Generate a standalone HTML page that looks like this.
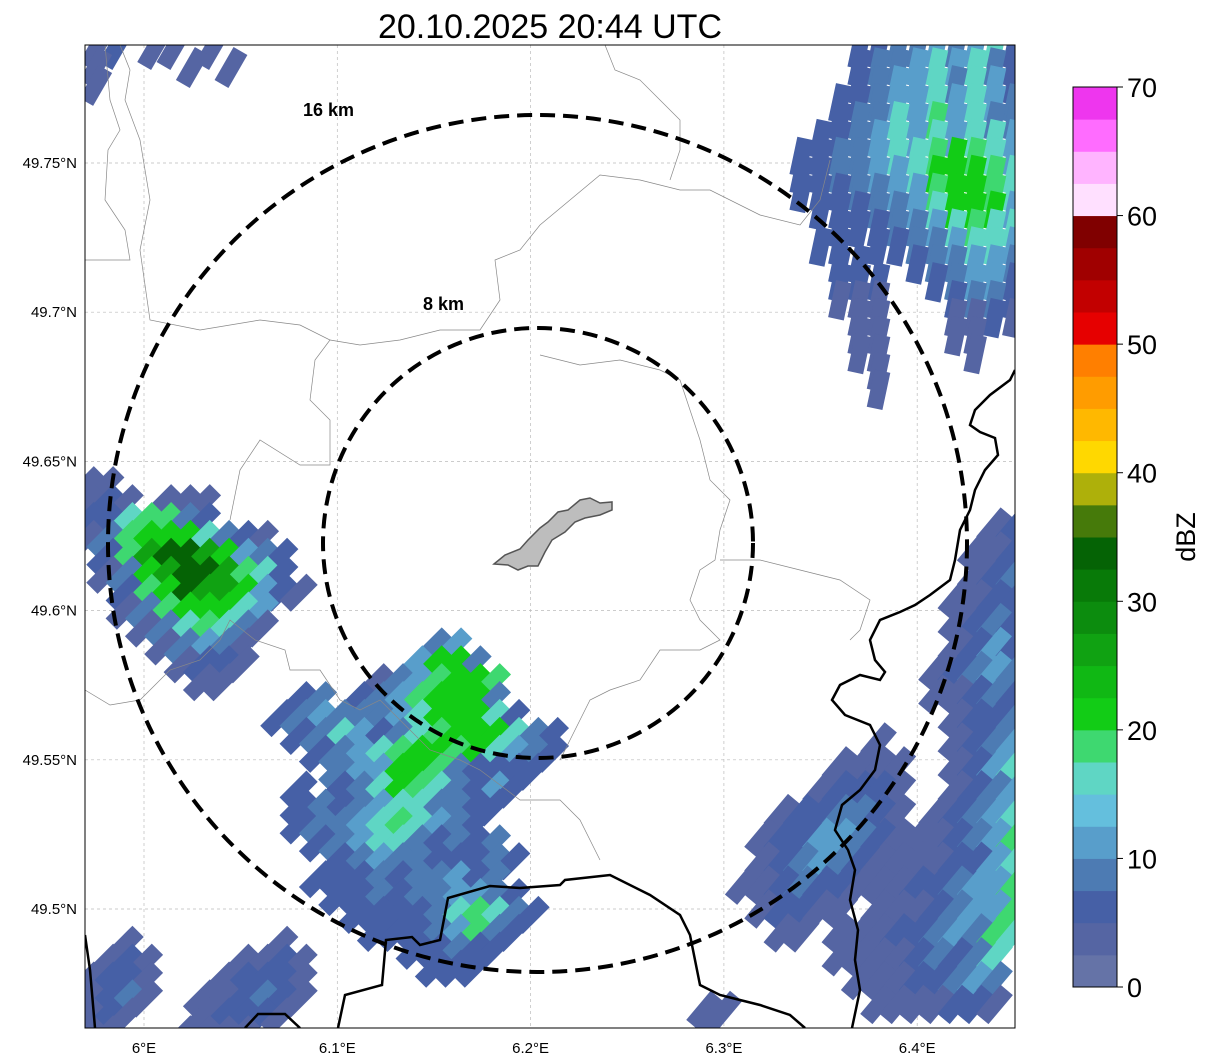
<!DOCTYPE html>
<html><head><meta charset="utf-8">
<style>
html,body{margin:0;padding:0;background:#fff;}
svg{display:block;font-family:"Liberation Sans","DejaVu Sans",sans-serif;}
</style></head>
<body>
<svg id="chart" width="1207" height="1064" viewBox="0 0 1207 1064">
<defs><clipPath id="mapclip"><rect x="85" y="45" width="930" height="983"/></clipPath></defs>
<text x="550" y="38" font-size="34" text-anchor="middle" fill="#000">20.10.2025 20:44 UTC</text>
<g id="map" clip-path="url(#mapclip)">
  <rect x="85" y="45" width="930" height="983" fill="#fff"/>
  <g id="grid"></g>
  <g id="echoes"></g>
  <g id="borders" fill="none">
    <polyline stroke="#888" stroke-width="0.7" points="105,45 110,100 120,130 108,150 105,200 125,230 130,260 85,260"/>
    <polyline stroke="#888" stroke-width="0.7" points="120,45 130,70 125,100 140,140 150,200 140,250 150,320 200,330 260,320 300,325 330,340 315,360 310,400 330,420 330,465 300,465 260,440 240,470 230,520"/>
    <polyline stroke="#888" stroke-width="0.7" points="330,340 360,345 400,340 440,330 480,330 500,300 495,260 520,250 540,225 600,175 640,180 680,190 710,190 760,215 800,225 820,200 830,160"/>
    <polyline stroke="#888" stroke-width="0.7" points="605,45 615,70 640,80 660,100 680,120 680,150 670,180"/>
    <polyline stroke="#888" stroke-width="0.7" points="540,355 580,365 620,360 660,370 680,380 690,410 700,440 710,480 730,500 720,530 715,560 700,570 690,600 700,620 720,640 700,650 660,650 640,680 610,690 590,700 580,720 560,760"/>
    <polyline stroke="#888" stroke-width="0.7" points="720,560 760,560 800,570 840,580 870,600 860,630 850,640"/>
    <polyline stroke="#888" stroke-width="0.7" points="85,690 110,705 140,700 170,670 200,660 220,640 230,620 255,640 285,650 290,670 320,670 340,700 360,710 380,700 400,720 430,750 460,760 480,770 520,800 560,800 580,820 600,860"/>
    <polyline stroke="#000" stroke-width="2.5" points="1015,370 1010,380 990,395 975,410 970,425 980,432 995,438 998,455 985,470 975,490 970,510 960,530 955,560 950,580 930,595 915,605 900,612 880,620 870,640 875,660 885,672 880,680 860,675 840,685 832,700 845,715 870,725 880,745 875,770 860,790 842,805 835,830 848,850 855,870 850,900 858,930 855,960 860,990 852,1028"/>
    <polyline stroke="#000" stroke-width="2.5" points="338,1028 345,995 382,985 386,940 412,937 420,945 440,940 448,898 490,886 520,888 560,885 565,880 610,875 650,895 680,915 690,935 695,960 700,985 720,995 740,1000 760,1005 790,1015 805,1028"/>
    <polyline stroke="#000" stroke-width="2.5" points="85,935 90,970 95,1028"/>
    <polyline stroke="#000" stroke-width="2.5" points="245,1028 258,1014 285,1014 300,1028"/>
  </g>
  <polygon fill="#bdbdbd" stroke="#555" stroke-width="1.5" points="494,564 505,555 520,549 528,540 540,528 548,522 558,512 568,510 580,500 590,498 600,503 612,502 612,510 600,515 585,518 575,522 565,532 552,540 545,552 538,566 528,566 518,570 508,565"/>
  <ellipse cx="537.5" cy="543.5" rx="429.5" ry="428.5" fill="none" stroke="#000" stroke-width="4" stroke-dasharray="15,8"/>
  <ellipse cx="538" cy="543" rx="215" ry="215" fill="none" stroke="#000" stroke-width="4" stroke-dasharray="15,8"/>
  <text x="303" y="116" font-size="18" font-weight="bold">16 km</text>
  <text x="423" y="310" font-size="18" font-weight="bold">8 km</text>
</g>
<rect x="85" y="45" width="930" height="983" fill="none" stroke="#000" stroke-width="1"/>
<g id="axes" font-size="15"></g>
<g id="cbar"></g>
<text transform="translate(1195,537) rotate(-90)" font-size="27" text-anchor="middle">dBZ</text>
<script>
// axis tick data
const lonTicks = [6.0, 6.1, 6.2, 6.3, 6.4];
const lonLabels = ["6°E", "6.1°E", "6.2°E", "6.3°E", "6.4°E"];
const latTicks = [49.75, 49.7, 49.65, 49.6, 49.55, 49.5];
const latLabels = ["49.75°N", "49.7°N", "49.65°N", "49.6°N", "49.55°N", "49.5°N"];
const cbarTicks = [0, 10, 20, 30, 40, 50, 60, 70];
const cbarColors = ["#6573a7","#5565a3","#4660a6","#4d7bb3","#589ecb","#64bfdd","#5fd6c4","#3ed870",
  "#12cc16","#10b814","#10a212","#0c8c0e","#087a08","#056305","#467a0a","#aeb00a",
  "#ffd800","#ffb800","#ff9c00","#ff7f00","#e60000","#c20000","#a00000","#800000",
  "#ffe0ff","#ffb4ff","#ff6cff","#ee36ee"];
// bin index char -> representative dBZ
const binDbz = [1, 4, 6, 9, 12, 15, 19, 21, 26, 33];
// echo clusters: origin lon/lat of top-left cell, steps, rotation, rows of bin chars
const clusterA = {lon0:5.97, lat0:49.642, dlon:0.01, dlat:0.006, rot:45, rows:[
 "11...........","121.111......","2256632......","1367775321...",".2689987432..",".1378998652..",
 "..2679887421.","..13677754...","...1356531...","....13431....",".....1221....","......11....."]};
const clusterB = {lon0:6.06, lat0:49.588, dlon:0.01, dlat:0.006, rot:45, rows:[
 ".........34......","........4773.....","......1346776....","..23.23467773....",".2343334577752...",
 "..23542356777532.","...2345677675432.","....34477632222..","..2.2357653242...","..23234553322....",
 "..2334565432.....","...2345532323....","....2343322232...","...2223233423....","....2232334432...",
 ".....2222356532..","......22234632...","........22322....",".........222....."]};
const clusterC = {lon0:6.34, lat0:49.788, dlon:0.01, dlat:0.006, rot:12, rows:[
 "...223343452","...233454532","...234453542","..2234454543","..2335464533",".22345454554",
 "223345567654","223344577765","222334467765",".22233457774","..2223345655",".22.22334554",
 "..22..233443","..222..23442","..111...2332","...11...1121","...11...11..","...11....1..",
 "....1.......","....1......."]};
const clusterD = {lon0:6.30, lat0:49.628, dlon:0.01, dlat:0.008, rot:40, rows:[
 "..............12",".............112",".............123","............1122","............1232",
 "............1242","...........12343","...........11232","............1223","........1...1234",
 "......1111..1245",".....12221..1234","...1223321.12345","..12244321112346","..12343211112245",
 ".112322111223446","..12211.11123446","...11.1112234365","......111123235.",".......11122343.",
 "........1111221."]};
const clusterE = {lon0:5.97, lat0:49.488, dlon:0.01, dlat:0.006, rot:45, rows:[
 "..1.......1...",".121....1121..","1221...12221..","1231..112321..","121...12221...","11...1111....."]};
const clusterF = {lon0:5.975, lat0:49.788, dlon:0.01, dlat:0.006, rot:30, rows:["12.11.1.","1....1.1","1......."]};
const clusterG = {lon0:6.29, lat0:49.466, dlon:0.01, dlat:0.006, rot:40, rows:["11","1."]};
const clusters = [clusterA, clusterB, clusterC, clusterD, clusterE, clusterF, clusterG];

const NS = "http://www.w3.org/2000/svg";
function xOf(lon){ return 144 + (lon - 6.0) * 1933; }
function yOf(lat){ return 163 + (49.75 - lat) * 2984; }
function colorOf(dbz){ let i = Math.floor(dbz / 2.5); if (i < 0) i = 0; if (i > 27) i = 27; return cbarColors[i]; }
function cbY(v){ return 987 - v * 900 / 70; }

const grid = document.getElementById('grid');
lonTicks.forEach(function(t){
  const l = document.createElementNS(NS,'line');
  l.setAttribute('x1', xOf(t)); l.setAttribute('x2', xOf(t)); l.setAttribute('y1', 45); l.setAttribute('y2', 1028);
  l.setAttribute('stroke','#bbb'); l.setAttribute('stroke-width','0.7'); l.setAttribute('stroke-dasharray','3,3');
  
  
  grid.appendChild(l);
});
latTicks.forEach(function(t){
  const l = document.createElementNS(NS,'line');
  l.setAttribute('y1', yOf(t)); l.setAttribute('y2', yOf(t)); l.setAttribute('x1', 85); l.setAttribute('x2', 1015);
  l.setAttribute('stroke','#bbb'); l.setAttribute('stroke-width','0.7'); l.setAttribute('stroke-dasharray','3,3');
  
  
  grid.appendChild(l);
});

const echoes = document.getElementById('echoes');
clusters.forEach(function(c){
  c.rows.forEach(function(row, r){
    for (let k = 0; k < row.length; k++){
      const ch = row[k];
      if (ch === '.') continue;
      const dbz = binDbz[parseInt(ch, 10)];
      const cx = xOf(c.lon0 + k * c.dlon), cy = yOf(c.lat0 - r * c.dlat);
      const rc = document.createElementNS(NS,'rect');
      rc.setAttribute('x', cx - 8); rc.setAttribute('y', cy - 19);
      rc.setAttribute('width', 16); rc.setAttribute('height', 38);
      rc.setAttribute('fill', colorOf(dbz));
      rc.setAttribute('transform', 'rotate(' + c.rot + ' ' + cx + ' ' + cy + ')');
      
      
      echoes.appendChild(rc);
    }
  });
});

const axes = document.getElementById('axes');
lonTicks.forEach(function(t, i){
  const tx = document.createElementNS(NS,'text');
  tx.setAttribute('x', xOf(t)); tx.setAttribute('y', 1053); tx.setAttribute('text-anchor','middle');
  tx.textContent = lonLabels[i];
  
  
  axes.appendChild(tx);
});
latTicks.forEach(function(t, i){
  const tx = document.createElementNS(NS,'text');
  tx.setAttribute('x', 77); tx.setAttribute('y', yOf(t) + 5); tx.setAttribute('text-anchor','end');
  tx.textContent = latLabels[i];
  
  
  axes.appendChild(tx);
});

const cbar = document.getElementById('cbar');
cbarColors.forEach(function(col, i){
  const r = document.createElementNS(NS,'rect');
  const v0 = i * 2.5, v1 = (i + 1) * 2.5;
  r.setAttribute('x', 1073); r.setAttribute('y', cbY(v1)); r.setAttribute('width', 44); r.setAttribute('height', cbY(v0) - cbY(v1) + 0.5);
  r.setAttribute('fill', col);
  
  
  cbar.appendChild(r);
});
const frame = document.createElementNS(NS,'rect');
frame.setAttribute('x',1073); frame.setAttribute('y',87); frame.setAttribute('width',44); frame.setAttribute('height',900);
frame.setAttribute('fill','none'); frame.setAttribute('stroke','#000'); frame.setAttribute('stroke-width','1');


cbar.appendChild(frame);
cbarTicks.forEach(function(v){
  const l = document.createElementNS(NS,'line');
  l.setAttribute('x1',1117); l.setAttribute('x2',1123); l.setAttribute('y1',cbY(v)); l.setAttribute('y2',cbY(v)); l.setAttribute('stroke','#000');
  
  
  cbar.appendChild(l);
  const tx = document.createElementNS(NS,'text');
  tx.setAttribute('x',1127); tx.setAttribute('y',cbY(v)+10); tx.setAttribute('font-size','27');
  tx.textContent = String(v);
  
  
  cbar.appendChild(tx);
});
</script>
</svg>
</body></html>
